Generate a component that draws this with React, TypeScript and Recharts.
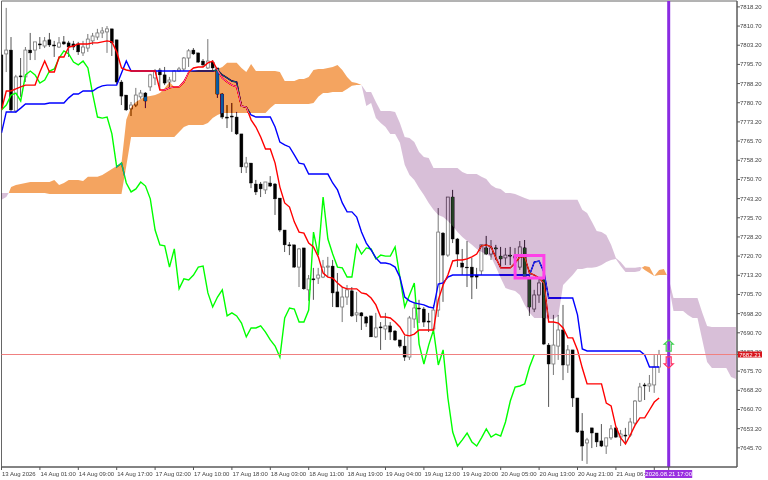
import {
  Area,
  Bar,
  ComposedChart,
  Line,
  ReferenceArea,
  ReferenceDot,
  ReferenceLine,
  XAxis,
  YAxis,
} from "recharts";

const opens = [
  7799.4, 7799.8, 7801.3, 7777.5, 7791.2, 7790.8, 7801.3, 7801.3, 7803.7, 7802.9,
  7805.3, 7803.3, 7802.5, 7804.5, 7804.1, 7803.7, 7803.7, 7800.2, 7802.1, 7804.9,
  7806.4, 7808.0, 7808.4, 7809.6, 7805.3, 7788.8, 7783.7, 7778.3, 7779.8, 7783.0,
  7784.5, 7786.9, 7790.4, 7793.5, 7791.6, 7788.8, 7789.2, 7793.1, 7793.9, 7798.2,
  7801.3, 7800.2, 7797.0, 7794.3, 7796.6, 7794.3, 7784.1, 7775.1, 7775.5, 7775.1,
  7768.5, 7755.6, 7757.1, 7748.9, 7748.9, 7746.6, 7749.3, 7748.9, 7743.4, 7730.9,
  7725.1, 7725.1, 7716.4, 7723.9, 7707.5, 7711.8, 7712.1, 7712.5, 7716.4, 7716.8,
  7706.7, 7700.8, 7704.7, 7707.1, 7697.7, 7698.5, 7696.9, 7697.3, 7689.1, 7693.0,
  7692.2, 7693.4, 7691.4, 7687.9, 7685.5, 7681.2, 7696.1, 7700.4, 7700.0, 7695.3,
  7692.2, 7699.6, 7729.7, 7721.1, 7743.8, 7727.4, 7718.0, 7716.4, 7716.4, 7713.3,
  7714.9, 7723.9, 7721.5, 7723.9, 7720.7, 7720.0, 7721.1, 7720.0, 7716.4, 7723.9,
  7711.8, 7700.0, 7705.5, 7711.4, 7685.9, 7678.5, 7685.5, 7691.8, 7678.1, 7684.0,
  7665.2, 7652.3, 7647.6, 7653.5, 7651.5, 7648.4, 7646.4, 7649.6, 7653.5, 7649.9,
  7650.7, 7650.7, 7655.4, 7664.0, 7670.3, 7669.9, 7670.3, 7677.3,
];
const highs = [
  7800.6, 7817.8, 7806.4, 7791.6, 7798.2, 7802.5, 7808.0, 7804.5, 7806.4, 7806.4,
  7808.0, 7804.9, 7806.4, 7806.8, 7804.9, 7804.9, 7804.5, 7804.9, 7807.6, 7808.0,
  7809.6, 7810.3, 7810.7, 7809.6, 7805.3, 7789.6, 7783.7, 7781.0, 7786.5, 7785.7,
  7784.9, 7792.0, 7793.9, 7794.3, 7794.7, 7790.8, 7793.5, 7794.7, 7798.6, 7801.7,
  7802.1, 7800.2, 7797.8, 7805.6, 7797.4, 7794.3, 7784.5, 7779.8, 7780.6, 7777.1,
  7768.5, 7759.5, 7757.1, 7750.5, 7749.7, 7749.7, 7752.0, 7749.3, 7743.4, 7730.9,
  7726.2, 7725.1, 7723.9, 7723.9, 7713.3, 7716.1, 7716.1, 7719.2, 7720.4, 7719.2,
  7714.1, 7708.6, 7709.4, 7708.6, 7706.7, 7698.8, 7697.3, 7697.3, 7698.5, 7694.9,
  7698.5, 7694.9, 7691.8, 7687.9, 7689.5, 7697.3, 7702.8, 7703.6, 7700.8, 7698.5,
  7701.6, 7739.5, 7730.1, 7743.8, 7746.6, 7727.8, 7723.5, 7726.6, 7720.0, 7716.1,
  7725.1, 7728.6, 7727.0, 7725.1, 7724.3, 7723.9, 7724.3, 7723.9, 7726.6, 7727.0,
  7715.3, 7707.5, 7712.1, 7712.9, 7686.7, 7697.7, 7697.7, 7701.6, 7685.9, 7684.0,
  7665.2, 7659.3, 7649.6, 7653.5, 7651.5, 7655.0, 7649.6, 7654.6, 7653.5, 7652.7,
  7653.5, 7657.4, 7664.4, 7671.1, 7671.1, 7674.2, 7682.0, 7684.0,
];
const lows = [
  7777.1, 7792.7, 7777.1, 7776.7, 7783.0, 7788.8, 7797.4, 7797.4, 7801.7, 7802.1,
  7802.5, 7798.6, 7802.1, 7803.3, 7798.6, 7801.3, 7799.4, 7799.0, 7800.6, 7803.3,
  7805.3, 7806.0, 7800.2, 7799.0, 7788.0, 7779.8, 7777.5, 7775.5, 7779.0, 7782.2,
  7778.6, 7785.3, 7787.6, 7785.7, 7787.6, 7786.5, 7788.8, 7792.7, 7793.1, 7794.7,
  7799.4, 7796.3, 7794.7, 7793.9, 7793.5, 7782.6, 7774.3, 7770.8, 7769.3, 7768.1,
  7753.2, 7753.2, 7747.3, 7744.6, 7743.8, 7745.0, 7747.7, 7736.8, 7730.1, 7722.3,
  7721.1, 7716.1, 7708.6, 7707.5, 7703.2, 7703.6, 7709.8, 7712.1, 7712.5, 7700.8,
  7700.8, 7694.9, 7701.6, 7696.9, 7694.9, 7691.8, 7693.0, 7689.1, 7688.7, 7684.0,
  7687.9, 7687.9, 7687.5, 7684.8, 7679.7, 7680.1, 7692.6, 7694.5, 7693.0, 7691.0,
  7691.4, 7696.9, 7702.8, 7720.4, 7725.8, 7716.4, 7713.3, 7708.6, 7703.9, 7707.9,
  7713.3, 7721.1, 7719.2, 7719.2, 7716.4, 7717.2, 7717.2, 7718.4, 7715.3, 7712.1,
  7697.3, 7698.8, 7702.4, 7685.9, 7661.7, 7674.2, 7680.1, 7672.2, 7675.0, 7661.7,
  7651.5, 7640.6, 7639.4, 7645.6, 7646.0, 7646.0, 7643.3, 7648.8, 7649.6, 7646.4,
  7647.6, 7649.9, 7654.6, 7663.6, 7664.4, 7667.6, 7667.2, 7675.0,
];
const closes = [
  7778.6, 7801.3, 7777.9, 7790.8, 7790.8, 7801.3, 7800.2, 7804.5, 7803.3, 7804.9,
  7803.3, 7802.9, 7804.1, 7803.7, 7802.5, 7802.5, 7800.6, 7802.5, 7805.6, 7806.8,
  7808.0, 7808.8, 7809.6, 7804.1, 7788.8, 7783.3, 7777.9, 7779.8, 7783.7, 7784.5,
  7781.4, 7791.6, 7793.1, 7791.6, 7788.4, 7789.6, 7793.1, 7793.9, 7798.2, 7801.0,
  7799.8, 7796.6, 7795.5, 7797.0, 7794.3, 7784.1, 7775.1, 7774.7, 7775.1, 7768.5,
  7755.6, 7757.1, 7749.3, 7745.8, 7747.0, 7749.7, 7748.1, 7743.1, 7730.9, 7725.1,
  7724.7, 7716.4, 7723.5, 7707.9, 7711.8, 7711.4, 7713.3, 7716.4, 7716.8, 7706.3,
  7700.8, 7704.7, 7707.5, 7697.3, 7698.5, 7697.3, 7694.5, 7689.1, 7692.6, 7692.6,
  7693.4, 7691.0, 7687.9, 7685.5, 7681.2, 7696.5, 7700.4, 7700.0, 7694.9, 7694.9,
  7699.6, 7730.1, 7721.1, 7743.8, 7727.4, 7721.5, 7716.4, 7716.1, 7712.5, 7712.5,
  7725.1, 7721.5, 7723.9, 7723.5, 7719.6, 7721.1, 7720.7, 7720.7, 7724.3, 7712.5,
  7700.8, 7705.5, 7710.2, 7686.3, 7678.5, 7685.9, 7691.8, 7678.1, 7684.0, 7665.2,
  7651.9, 7646.4, 7648.8, 7651.5, 7648.0, 7646.4, 7649.6, 7653.1, 7649.9, 7651.1,
  7650.3, 7655.8, 7664.0, 7669.5, 7669.9, 7670.7, 7677.3, 7682.2,
];

const tenkan = [
  7777.9, 7785.3, 7785.3, 7786.1, 7786.9, 7787.6, 7787.6, 7787.6, 7792.7, 7797.0,
  7792.7, 7792.7, 7798.6, 7798.6, 7802.5, 7802.9, 7803.7, 7803.7, 7803.7, 7804.1,
  7804.1, 7804.5, 7804.9, 7804.5, 7800.6, 7794.3, 7793.5, 7793.1, 7793.1, 7793.1,
  7793.1, 7793.1, 7793.1, 7785.7, 7785.7, 7786.5, 7786.9, 7786.9, 7788.8, 7792.7,
  7794.3, 7794.7, 7794.7, 7796.3, 7797.0, 7793.5, 7790.4, 7788.8, 7787.6, 7786.9,
  7779.4, 7779.0, 7774.0, 7771.2, 7767.3, 7762.6, 7762.6, 7757.1, 7747.7, 7741.5,
  7739.9, 7734.1, 7730.1, 7729.7, 7725.8, 7724.3, 7720.4, 7714.1, 7712.5, 7712.1,
  7710.2, 7708.6, 7707.9, 7707.9, 7707.9, 7706.3, 7705.9, 7704.3, 7701.6, 7696.9,
  7696.9, 7696.5, 7694.9, 7693.0, 7689.9, 7689.5, 7690.2, 7691.8, 7691.8, 7691.8,
  7691.8, 7703.6, 7709.4, 7713.3, 7718.8, 7719.2, 7719.2, 7719.6, 7720.4, 7721.5,
  7724.7, 7725.1, 7724.3, 7720.0, 7716.1, 7716.1, 7716.1, 7718.0, 7720.4, 7720.4,
  7714.1, 7713.3, 7712.1, 7710.2, 7694.9, 7694.9, 7694.5, 7692.6, 7688.7, 7688.7,
  7684.0, 7676.9, 7670.7, 7670.7, 7670.7, 7670.7, 7663.2, 7662.1, 7653.9, 7649.6,
  7647.2, 7650.7, 7654.6, 7657.4, 7657.4, 7660.5, 7663.6, 7665.2,
];
const kijun = [
  7768.9, 7777.1, 7777.1, 7777.1, 7778.6, 7780.2, 7780.2, 7780.2, 7780.2, 7780.2,
  7780.6, 7780.6, 7780.6, 7780.6, 7782.6, 7784.1, 7784.1, 7785.3, 7785.3, 7785.3,
  7786.5, 7787.3, 7787.6, 7787.6, 7787.6, 7792.3, 7797.0, 7793.1, 7793.1, 7793.1,
  7793.1, 7793.1, 7793.1, 7793.1, 7793.1, 7793.1, 7793.1, 7793.1, 7793.1, 7793.1,
  7793.1, 7793.1, 7793.1, 7793.1, 7793.1, 7793.5, 7791.6, 7790.4, 7789.2, 7788.8,
  7779.4, 7779.0, 7775.9, 7775.1, 7775.1, 7775.1, 7775.1, 7771.2, 7765.3, 7764.2,
  7763.4, 7760.3, 7757.1, 7756.7, 7752.8, 7752.8, 7752.8, 7752.8, 7752.8, 7749.3,
  7746.6, 7741.5, 7738.0, 7738.0, 7736.0, 7730.1, 7725.8, 7723.1, 7720.0, 7718.0,
  7718.0, 7717.6, 7716.4, 7712.5, 7704.7, 7703.2, 7702.4, 7702.0, 7701.6, 7700.8,
  7700.4, 7709.8, 7710.2, 7712.5, 7713.3, 7713.3, 7713.3, 7713.3, 7713.3, 7713.3,
  7713.3, 7713.3, 7713.3, 7713.3, 7713.3, 7713.3, 7713.3, 7713.3, 7713.3, 7713.3,
  7713.3, 7718.4, 7718.8, 7714.5, 7704.3, 7704.3, 7704.3, 7704.3, 7704.3, 7704.3,
  7697.7, 7684.4, 7683.6, 7683.6, 7683.6, 7683.6, 7683.6, 7683.6, 7683.6, 7683.6,
  7683.6, 7683.6, 7683.6, 7683.6, 7682.0, 7677.3, 7677.3, 7677.3,
];
const chikou = [
  7777.9, 7779.8, 7783.7, 7784.5, 7781.4, 7791.6, 7793.1, 7791.6, 7788.4, 7789.6,
  7793.1, 7793.9, 7798.2, 7801.0, 7799.8, 7796.6, 7795.5, 7797.0, 7794.3, 7784.1,
  7775.1, 7774.7, 7775.1, 7768.5, 7755.6, 7757.1, 7749.3, 7745.8, 7747.0, 7749.7,
  7748.1, 7743.1, 7730.9, 7725.1, 7724.7, 7716.4, 7723.5, 7707.9, 7711.8, 7711.4,
  7713.3, 7716.4, 7716.8, 7706.3, 7700.8, 7704.7, 7707.5, 7697.3, 7698.5, 7697.3,
  7694.5, 7689.1, 7692.6, 7692.6, 7693.4, 7691.0, 7687.9, 7685.5, 7681.2, 7696.5,
  7700.4, 7700.0, 7694.9, 7694.9, 7699.6, 7730.1, 7721.1, 7743.8, 7727.4, 7721.5,
  7716.4, 7716.1, 7712.5, 7712.5, 7725.1, 7721.5, 7723.9, 7723.5, 7719.6, 7721.1,
  7720.7, 7720.7, 7724.3, 7712.5, 7700.8, 7705.5, 7710.2, 7686.3, 7678.5, 7685.9,
  7691.8, 7678.1, 7684.0, 7665.2, 7651.9, 7646.4, 7648.8, 7651.5, 7648.0, 7646.4,
  7649.6, 7653.1, 7649.9, 7651.1, 7650.3, 7655.8, 7664.0, 7669.5, 7669.9, 7670.7,
  7677.3, 7682.2,
];

// cloud pieces: bar position, upper span, lower span
const downBarsA = [0, 1, 1.5];
const downTopA = [7745.4, 7745.4, 7745.4];
const downBottomA = [7742.7, 7743.8, 7745.4];

const upBarsA = [
  1.5, 2, 3, 4, 5, 6, 7, 8, 9, 10, 11, 12, 13, 14, 15, 16, 17, 18, 19, 20, 21, 22, 23, 24, 25,
  26, 27, 28, 29, 30, 31, 32, 33, 34, 35, 36, 37, 38, 39, 40, 41, 42, 43, 44, 45, 46, 47, 48,
  49, 50, 51, 52, 53, 54, 55, 56, 57, 58, 59, 60, 61, 62, 63, 64, 65, 66, 67, 68, 69, 70, 71,
  72, 73, 74, 75,
];
const upTopA = [
  7745.4, 7747.7, 7748.5, 7748.9, 7749.3, 7749.7, 7749.7, 7749.7, 7749.7, 7749.7, 7750.5,
  7748.5, 7749.3, 7750.5, 7750.5, 7750.5, 7750.1, 7751.7, 7751.7, 7751.7, 7752.4, 7753.6,
  7754.8, 7756.0, 7757.1, 7774.0, 7779.0, 7781.0, 7782.2, 7783.0, 7783.3, 7783.7, 7784.5,
  7786.5, 7788.8, 7786.9, 7787.3, 7789.6, 7792.7, 7793.1, 7793.5, 7793.5, 7793.5, 7793.5,
  7793.9, 7794.7, 7796.3, 7796.3, 7796.3, 7794.3, 7792.7, 7795.9, 7793.1, 7793.1, 7793.1,
  7793.1, 7793.1, 7792.7, 7789.2, 7789.2, 7789.2, 7790.0, 7790.0, 7790.8, 7793.5, 7793.9,
  7793.9, 7794.3, 7794.7, 7795.5, 7793.5, 7790.8, 7788.8, 7788.4, 7787.6,
];
const upBottomA = [
  7745.4, 7745.4, 7745.4, 7745.4, 7745.4, 7745.4, 7745.4, 7745.4, 7745.4, 7745.0, 7745.0,
  7745.0, 7745.0, 7745.0, 7745.0, 7745.0, 7745.0, 7745.0, 7745.0, 7745.0, 7745.0, 7745.0,
  7745.0, 7745.0, 7745.0, 7756.0, 7767.3, 7767.3, 7767.3, 7767.3, 7767.3, 7767.3, 7767.3,
  7767.3, 7767.3, 7767.3, 7769.3, 7771.2, 7772.0, 7772.0, 7772.0, 7772.0, 7772.8, 7774.7,
  7775.9, 7776.7, 7776.7, 7776.7, 7776.7, 7776.7, 7776.7, 7776.7, 7776.7, 7776.7, 7776.7,
  7778.6, 7780.2, 7780.2, 7780.2, 7780.2, 7780.2, 7780.2, 7780.2, 7780.2, 7780.6, 7783.0,
  7784.5, 7784.5, 7784.9, 7784.9, 7784.9, 7786.1, 7787.3, 7787.6, 7787.6,
];

const downBarsB = [
  75, 76, 77, 78, 79, 80, 81, 82, 83, 84, 85, 86, 87, 88, 89, 90, 91, 92, 93, 94, 95, 96, 97,
  98, 99, 100, 101, 102, 103, 104, 105, 106, 107, 108, 109, 110, 111, 112, 113, 114, 115, 116,
  117, 118, 119, 120, 121, 122, 123, 124, 125, 126, 127, 128, 129, 130, 131, 132, 133, 133.4,
];
const downTopB = [
  7787.6, 7784.9, 7784.9, 7781.0, 7777.5, 7777.5, 7777.5, 7777.1, 7772.8, 7767.3, 7766.9,
  7765.3, 7761.4, 7759.5, 7759.1, 7755.2, 7755.2, 7755.2, 7755.2, 7755.2, 7755.2, 7753.6,
  7752.8, 7752.8, 7752.8, 7751.7, 7750.9, 7748.5, 7747.3, 7747.0, 7745.4, 7745.4, 7745.0,
  7744.2, 7743.4, 7742.7, 7742.7, 7742.7, 7742.7, 7742.7, 7742.7, 7742.7, 7742.7, 7742.7,
  7742.7, 7742.7, 7738.8, 7737.6, 7734.1, 7730.5, 7730.1, 7729.0, 7725.1, 7720.0, 7718.4,
  7716.1, 7716.1, 7716.1, 7716.4, 7716.1,
];
const downBottomB = [
  7787.6, 7779.4, 7780.6, 7774.7, 7772.8, 7771.2, 7768.5, 7768.5, 7765.0, 7756.4, 7752.4,
  7750.5, 7747.3, 7744.6, 7741.5, 7738.8, 7736.8, 7736.0, 7734.4, 7732.5, 7730.1, 7728.2,
  7726.6, 7725.1, 7723.5, 7722.3, 7721.5, 7720.4, 7716.4, 7712.1, 7708.2, 7707.5, 7707.1,
  7705.5, 7701.6, 7698.5, 7696.5, 7696.5, 7696.5, 7696.1, 7696.1, 7697.3, 7709.4, 7711.4,
  7713.3, 7715.7, 7715.7, 7716.1, 7716.1, 7716.4, 7717.2, 7718.4, 7719.2, 7719.6, 7716.8,
  7714.5, 7714.5, 7714.5, 7714.9, 7716.1,
];

const upBarsB = [133.4, 134, 135, 136, 137, 138, 138.6];
const upTopB = [7716.1, 7716.8, 7716.4, 7712.9, 7715.3, 7715.7, 7713.3];
const upBottomB = [7716.1, 7715.3, 7714.1, 7712.9, 7713.3, 7713.3, 7713.3];

const downBarsC = [138.6, 139, 140, 141, 142, 143, 144, 145, 146, 147, 148, 149, 150, 151, 152, 153];
const downTopC = [
  7713.3, 7711.8, 7704.3, 7704.3, 7704.3, 7704.3, 7704.3, 7704.3, 7698.5, 7693.4, 7693.0,
  7693.0, 7693.0, 7693.0, 7693.0, 7693.0,
];
const downBottomC = [
  7713.3, 7709.4, 7699.2, 7699.2, 7699.2, 7697.7, 7696.5, 7696.5, 7687.9, 7679.3, 7676.9,
  7676.9, 7676.9, 7676.9, 7673.4, 7672.6,
];

const priceTicks = [
  7818.2, 7810.7, 7803.2, 7795.7, 7788.2, 7780.7, 7773.2, 7765.7, 7758.2, 7750.7, 7743.2,
  7735.7, 7728.2, 7720.7, 7713.2, 7705.7, 7698.2, 7690.7, 7683.2, 7675.7, 7668.2, 7660.7,
  7653.2, 7645.7, 7682.21,
];
const timeBars = [0, 8, 16, 24, 32, 40, 48, 56, 64, 72, 80, 88, 96, 104, 112, 120, 128, 136, 139];
const timeLabels = [
  "13 Aug 2026", "14 Aug 01:00", "14 Aug 09:00", "14 Aug 17:00", "17 Aug 02:00", "17 Aug 10:00",
  "17 Aug 18:00", "18 Aug 03:00", "18 Aug 11:00", "18 Aug 19:00", "19 Aug 04:00", "19 Aug 12:00",
  "19 Aug 20:00", "20 Aug 05:00", "20 Aug 13:00", "20 Aug 21:00", "21 Aug 06:00", "",
  "2026.08.21 17:00",
];

const lastPrice = 7682.21;
const signalBar = 139;
const boxBars = [107, 113];
const boxPrices = [7720.9, 7712.1];
const upArrowPrice = 7685.9;
const downArrowPrice = 7679.3;

const xDomain: [number, number] = [0, 153.23];
const yDomain: [number, number] = [7638.2, 7820.5];
const FONT = "'Liberation Sans', Arial, sans-serif";

const candles = opens.map((open, i) => ({
  i,
  open,
  close: closes[i],
  high: highs[i],
  low: lows[i],
  range: [lows[i], highs[i]],
}));
const toLine = (values: number[]) => values.map((v, i) => ({ i, v }));
const toCloud = (bars: number[], top: number[], bottom: number[]) =>
  bars.map((i, k) => ({ i, span: [bottom[k], top[k]] }));

const clouds = [
  { data: toCloud(downBarsA, downTopA, downBottomA), fill: "#274027" },
  { data: toCloud(upBarsA, upTopA, upBottomA), fill: "#0B5B9F" },
  { data: toCloud(downBarsB, downTopB, downBottomB), fill: "#274027" },
  { data: toCloud(upBarsB, upTopB, upBottomB), fill: "#0B5B9F" },
  { data: toCloud(downBarsC, downTopC, downBottomC), fill: "#274027" },
];

const Candle = (props: any) => {
  const { x, y, width, height, payload } = props;
  const cx = x + width / 2;
  const perUnit = height / (payload.high - payload.low);
  const bull = payload.close >= payload.open;
  const top = y + (payload.high - Math.max(payload.open, payload.close)) * perUnit;
  const bottom = y + (payload.high - Math.min(payload.open, payload.close)) * perUnit;
  return (
    <g>
      <line x1={cx} x2={cx} y1={y} y2={y + height} stroke={bull ? "#777" : "#555"} strokeWidth={1} />
      <rect
        x={cx - 1.5}
        y={top}
        width={3}
        height={Math.max(bottom - top, 0.8)}
        fill={bull ? "#fff" : "#000"}
        stroke={bull ? "#777" : "#000"}
        strokeWidth={bull ? 0.8 : 0.4}
      />
    </g>
  );
};

const PriceTick = (props: any) => {
  const { x, y, payload } = props;
  if (payload.value === lastPrice) {
    return (
      <g>
        <rect x={x - 2} y={y - 3} width={24} height={6} fill="#d8141c" />
        <text x={x + 10} y={y + 2} textAnchor="middle" fontSize={6} fontFamily={FONT} fill="#fff">
          {payload.value.toFixed(2)}
        </text>
      </g>
    );
  }
  return (
    <text x={x} y={y + 2} fontSize={6} fontFamily={FONT} fill="#444">
      {payload.value.toFixed(2)}
    </text>
  );
};

const TimeTick = (props: any) => {
  const { x, y, payload } = props;
  const label = timeLabels[timeBars.indexOf(payload.value)];
  if (payload.value === signalBar) {
    return (
      <g>
        <rect x={x - 23.5} y={y} width={47} height={8} fill="#9a30e0" />
        <text x={x} y={y + 6} textAnchor="middle" fontSize={6} fontFamily={FONT} fill="#fff">
          {label}
        </text>
      </g>
    );
  }
  return (
    <text x={x + 0.5} y={y + 6} fontSize={6} fontFamily={FONT} fill="#444">
      {label}
    </text>
  );
};

const UpArrow = (props: any) => {
  const { cx, cy } = props;
  return (
    <polygon
      points={`${cx},${cy - 5} ${cx + 4.5},${cy - 1} ${cx + 2.5},${cy - 1} ${cx + 2.5},${cy + 6} ${cx - 2.5},${cy + 6} ${cx - 2.5},${cy - 1} ${cx - 4.5},${cy - 1}`}
      fill="none"
      stroke="#3fd04f"
      strokeWidth={1.2}
    />
  );
};

const DownArrow = (props: any) => {
  const { cx, cy } = props;
  return (
    <polygon
      points={`${cx},${cy + 6} ${cx + 4.5},${cy + 2} ${cx + 2.5},${cy + 2} ${cx + 2.5},${cy - 5} ${cx - 2.5},${cy - 5} ${cx - 2.5},${cy + 2} ${cx - 4.5},${cy + 2}`}
      fill="none"
      stroke="#ff3060"
      strokeWidth={1.2}
    />
  );
};

export default function App() {
  return (
    <div style={{ position: "absolute", left: 0, top: 0, width: 768, height: 480, background: "#fff" }}>
      <style>{`.kumo { mix-blend-mode: difference; }`}</style>
      <ComposedChart
        width={768}
        height={480}
        data={candles}
        margin={{ top: 1, right: 0, bottom: 0, left: 1.5 }}
      >
        <XAxis
          dataKey="i"
          type="number"
          domain={xDomain}
          allowDataOverflow
          ticks={timeBars}
          interval={0}
          height={13}
          tickSize={3}
          tickMargin={0}
          stroke="#555"
          tick={<TimeTick />}
        />
        <YAxis
          orientation="right"
          type="number"
          domain={yDomain}
          allowDataOverflow
          ticks={priceTicks}
          interval={0}
          width={31}
          tickSize={3}
          tickMargin={0}
          stroke="#555"
          tick={<PriceTick />}
        />
        <ReferenceArea
          x1={xDomain[0]}
          x2={xDomain[1]}
          y1={yDomain[0]}
          y2={yDomain[1]}
          fill="#fff"
          fillOpacity={1}
          stroke="#666"
          strokeWidth={1}
          zIndex={-100}
        />
        <Bar dataKey="range" barSize={3} isAnimationActive={false} shape={<Candle />} />
        <Line data={toLine(chikou)} dataKey="v" stroke="#00ff00" strokeWidth={1.4} dot={false} isAnimationActive={false} />
        <Line data={toLine(kijun)} dataKey="v" stroke="#0000ff" strokeWidth={1.4} dot={false} isAnimationActive={false} />
        <Line data={toLine(tenkan)} dataKey="v" stroke="#ff0000" strokeWidth={1.4} dot={false} isAnimationActive={false} />
        {clouds.map((c, k) => (
          <Area
            key={k}
            className="kumo"
            data={c.data}
            dataKey="span"
            stroke="none"
            fill={c.fill}
            fillOpacity={1}
            dot={false}
            activeDot={false}
            isAnimationActive={false}
            zIndex={450}
          />
        ))}
        <ReferenceLine y={lastPrice} stroke="#f08080" strokeWidth={1} zIndex={460} />
        <ReferenceArea
          x1={boxBars[0]}
          x2={boxBars[1]}
          y1={boxPrices[1]}
          y2={boxPrices[0]}
          fill="none"
          stroke="#ff40e8"
          strokeWidth={3}
          zIndex={470}
        />
        <ReferenceLine x={signalBar} stroke="#8a2be2" strokeWidth={3} zIndex={480} />
        <ReferenceDot x={signalBar} y={upArrowPrice} r={5} shape={<UpArrow />} zIndex={490} />
        <ReferenceDot x={signalBar} y={downArrowPrice} r={5} shape={<DownArrow />} zIndex={490} />
      </ComposedChart>
    </div>
  );
}
